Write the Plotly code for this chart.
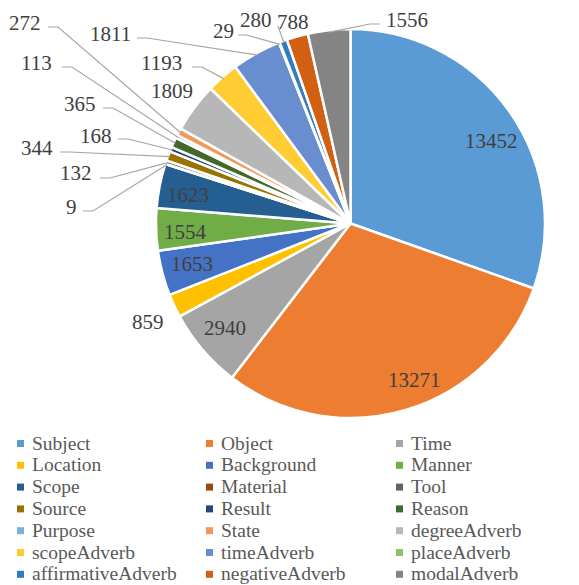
import math
import plotly.graph_objects as go

# ---------------- data ----------------
categories = ["Subject", "Object", "Time", "Location", "Background", "Manner",
              "Scope", "Material", "Tool", "Source", "Result", "Reason",
              "Purpose", "State", "degreeAdverb", "scopeAdverb", "timeAdverb",
              "placeAdverb", "affirmativeAdverb", "negativeAdverb", "modalAdverb"]
counts = [13452, 13271, 2940, 859, 1653, 1554,
          1623, 9, 132, 344, 168, 365,
          113, 272, 1809, 1193, 1811,
          29, 280, 788, 1556]
colors = ["#5B9BD5", "#ED7D31", "#A5A5A5", "#FFC000", "#4472C4", "#70AD47",
          "#255E91", "#9E480E", "#636363", "#997300", "#264478", "#43682B",
          "#7CAFDD", "#F1975A", "#B7B7B7", "#FFCD33", "#698ED0",
          "#8CC168", "#327DC2", "#D26012", "#848484"]

# ---------------- layout / style ----------------
W, H = 579, 585
CX, CY, R = 350.5, 223.5, 194.5          # pie centre and radius (px)
FONT = "Liberation Serif"
LABEL_COLOR = "#404040"
LEGEND_COLOR = "#595959"
LINE_COLOR = "#A6A6A6"
LABEL_SIZE = 21
LEGEND_SIZE = 19.5

# label placement: ("in"/"out", radius factor, angle offset deg) /
# ("lead", text_x, text_y, xanchor, line_x, line_y, elbow_dx)
placement = {
    "Subject": ("in", 0.84, 4.8), "Object": ("in", 0.87, -5.6),
    "Time": ("in", 0.84, 0.7), "Location": ("out", 1.16, -1.0),
    "Background": ("in", 0.84, 0.5), "Manner": ("in", 0.85, -1.2),
    "Scope": ("in", 0.85, -1.2),
    "Material": ("lead", 79, 207, "right", 83, 211, 10),
    "Tool": ("lead", 94, 173, "right", 100, 178, 10),
    "Source": ("lead", 55, 148, "right", 60, 152, 10),
    "Result": ("lead", 114, 136, "right", 118, 139, 10),
    "Reason": ("lead", 98, 104, "right", 103, 108, 10),
    "Purpose": ("lead", 54, 63, "right", 62, 67, 10),
    "State": ("lead", 43, 23, "right", 48, 27, 10),
    "degreeAdverb": ("out", 1.14, 0.0),
    "scopeAdverb": ("lead", 184, 63, "right", 192, 67, 10),
    "timeAdverb": ("lead", 133, 34, "right", 137, 38, 10),
    "placeAdverb": ("lead", 236, 31, "right", 238, 35, 8),
    "affirmativeAdverb": ("lead", 256, 20, "center", 278, 26, 0),
    "negativeAdverb": ("out", 1.075, 0.0),
    "modalAdverb": ("lead", 384, 20, "left", 380, 24, -10),
}

legend_cols_x = [30, 219, 409]
legend_row0_y = 443
legend_row_step = 21.8


def px2paper(x, y):
    return x / W, 1 - y / H


def polar(angle_deg, r):
    a = math.radians(angle_deg)
    return CX + r * math.sin(a), CY - r * math.cos(a)


fig = go.Figure()
dom_x = [(CX - R) / W, (CX + R) / W]
dom_y = [1 - (CY + R) / H, 1 - (CY - R) / H]
fig.add_trace(go.Pie(
    labels=categories, values=counts, sort=False, direction="clockwise",
    rotation=0, textinfo="none", hoverinfo="label+value",
    marker=dict(colors=colors, line=dict(color="white", width=2.5)),
    domain=dict(x=dom_x, y=dom_y), showlegend=False,
))

annotations = []
shapes = []
total = sum(counts)
cum = 0
for cat, v in zip(categories, counts):
    a0 = cum / total * 360
    cum += v
    a1 = cum / total * 360
    mid = (a0 + a1) / 2
    p = placement[cat]
    if p[0] in ("in", "out"):
        x, y = polar(mid + p[2], R * p[1])
        xp, yp = px2paper(x, y)
        annotations.append(dict(x=xp, y=yp, xref="paper", yref="paper",
                                text=str(v), showarrow=False,
                                xanchor="center", yanchor="middle",
                                font=dict(family=FONT, size=LABEL_SIZE, color=LABEL_COLOR)))
    else:
        _, tx, ty, xa, lx, ly, el = p
        xp, yp = px2paper(tx, ty)
        annotations.append(dict(x=xp, y=yp, xref="paper", yref="paper",
                                text=str(v), showarrow=False,
                                xanchor=xa, yanchor="middle",
                                font=dict(family=FONT, size=LABEL_SIZE, color=LABEL_COLOR)))
        ex, ey = polar(mid, R * 0.99)
        pts = [(lx, ly)]
        if el:
            pts.append((lx + el, ly))
        pts.append((ex, ey))
        path = ""
        for i, (qx, qy) in enumerate(pts):
            pxp, pyp = px2paper(qx, qy)
            path += ("M" if i == 0 else " L") + f"{pxp:.5f},{pyp:.5f}"
        shapes.append(dict(type="path", path=path, xref="paper", yref="paper",
                           line=dict(color=LINE_COLOR, width=1.2)))

# custom legend
for i, (cat, col) in enumerate(zip(categories, colors)):
    row, c = divmod(i, 3)
    tx = legend_cols_x[c]
    ty = legend_row0_y + row * legend_row_step
    xp, yp = px2paper(tx, ty)
    annotations.append(dict(x=xp, y=yp, xref="paper", yref="paper", text=cat,
                            showarrow=False, xanchor="left", yanchor="middle",
                            font=dict(family=FONT, size=LEGEND_SIZE, color=LEGEND_COLOR)))
    x0, y0 = px2paper(tx - 13, ty - 3)
    x1, y1 = px2paper(tx - 6, ty + 4)
    shapes.append(dict(type="rect", xref="paper", yref="paper",
                       x0=x0, x1=x1, y0=y1, y1=y0,
                       fillcolor=col, line=dict(width=0)))

fig.update_layout(
    width=W, height=H, autosize=False,
    margin=dict(l=0, r=0, t=0, b=0),
    paper_bgcolor="white", plot_bgcolor="white",
    annotations=annotations, shapes=shapes,
    font=dict(family=FONT),
)

fig.write_html("out.html", config={"displayModeBar": False},
               post_script="document.body.style.margin='0';")
